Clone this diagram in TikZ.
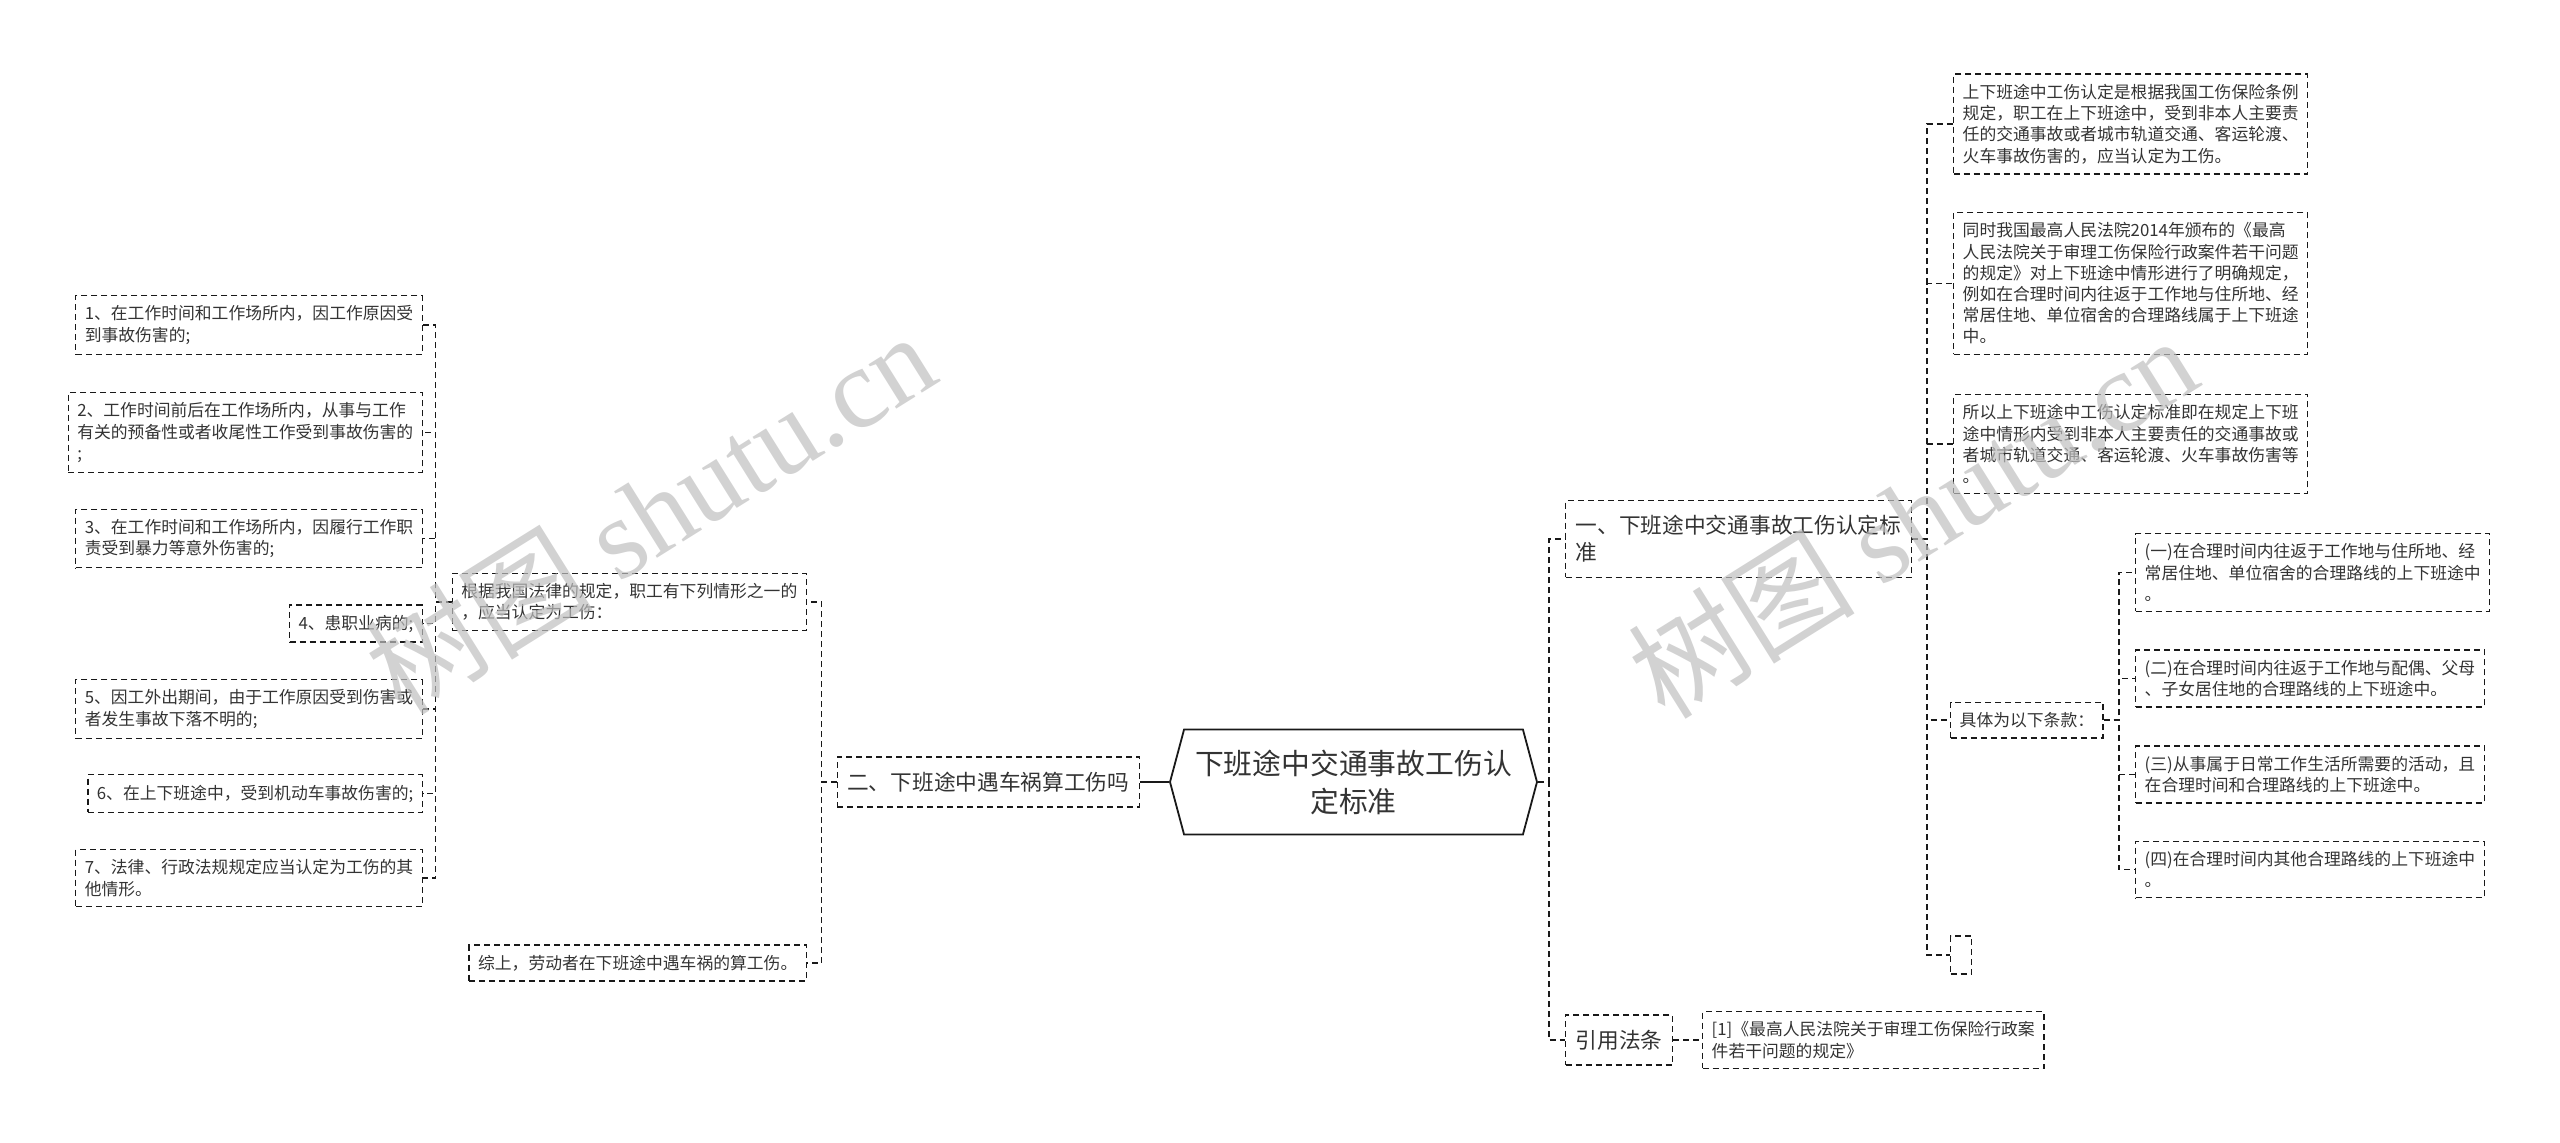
\documentclass[tikz,border=0pt]{standalone}
\usepackage{fontspec}
\setmainfont{Noto Sans CJK SC}
\newfontfamily\wmfont{Liberation Serif}
\usetikzlibrary{shapes.symbols}
\definecolor{LineClr}{rgb}{0.1,0.1,0.1}
\definecolor{TextClr}{rgb}{0.2,0.2,0.2}
\definecolor{WmClr}{rgb}{0.75,0.75,0.75}

\begin{document}
\begin{tikzpicture}[x=0.5pt,y=-0.5pt,
  rootbox/.style={draw=LineClr,line width=0.9pt,shape=signal,signal to=east and west,
    signal pointer angle=150,minimum width=183.5pt,minimum height=52.5pt,inner sep=0pt,
    align=center,font=\fontsize{14.4}{19}\selectfont,text=TextClr},
  topicbox/.style={draw=LineClr,line width=0.7pt,dash pattern=on 3pt off 2pt,align=left,
    inner xsep=5pt,inner ysep=7.5pt,font=\fontsize{10.85}{13.4}\selectfont,text=TextClr},
  leafbox/.style={topicbox,inner xsep=4.5pt,inner ysep=5pt,font=\fontsize{8.4}{10.6}\selectfont},
  link/.style={draw=LineClr,line width=0.7pt,dash pattern=on 3pt off 2pt},
  wmtext/.style={text=WmClr,opacity=0.7,rotate=32,font=\fontsize{57}{60}\selectfont}]
\useasboundingbox (0,0) rectangle (2560,1142);

\node[rootbox] (root) at (1353.5,782) {下班途中交通事故工伤认\\定标准};

\node[topicbox,anchor=west] (n1) at (1565,539) {一、下班途中交通事故工伤认定标\\准};
\node[topicbox,anchor=west] (cite) at (1565,1040) {引用法条};
\node[leafbox,anchor=west] (ref) at (1702,1040) {[1]《最高人民法院关于审理工伤保险行政案\\件若干问题的规定》};

\node[leafbox,anchor=west] (a1) at (1953,124) {上下班途中工伤认定是根据我国工伤保险条例\\规定，职工在上下班途中，受到非本人主要责\\任的交通事故或者城市轨道交通、客运轮渡、\\火车事故伤害的，应当认定为工伤。};
\node[leafbox,anchor=west] (a2) at (1953,283.5) {同时我国最高人民法院2014年颁布的《最高\\人民法院关于审理工伤保险行政案件若干问题\\的规定》对上下班途中情形进行了明确规定，\\例如在合理时间内往返于工作地与住所地、经\\常居住地、单位宿舍的合理路线属于上下班途\\中。};
\node[leafbox,anchor=west] (a3) at (1953,444) {所以上下班途中工伤认定标准即在规定上下班\\途中情形内受到非本人主要责任的交通事故或\\者城市轨道交通、客运轮渡、火车事故伤害等\\。};
\node[leafbox,anchor=west] (a4) at (1950,720) {具体为以下条款：};
\node[leafbox,anchor=west,minimum width=10.5pt,minimum height=19pt] (a5) at (1950,955) {};

\node[leafbox,anchor=west] (b1) at (2135,572.5) {(一)在合理时间内往返于工作地与住所地、经\\常居住地、单位宿舍的合理路线的上下班途中\\。};
\node[leafbox,anchor=west] (b2) at (2135,678.5) {(二)在合理时间内往返于工作地与配偶、父母\\、子女居住地的合理路线的上下班途中。};
\node[leafbox,anchor=west] (b3) at (2135,774.5) {(三)从事属于日常工作生活所需要的活动，且\\在合理时间和合理路线的上下班途中。};
\node[leafbox,anchor=west] (b4) at (2135,869.5) {(四)在合理时间内其他合理路线的上下班途中\\。};

\node[topicbox,anchor=east] (n2) at (1140,782) {二、下班途中遇车祸算工伤吗};
\node[leafbox,anchor=east] (c1) at (807,602) {根据我国法律的规定，职工有下列情形之一的\\，应当认定为工伤：};
\node[leafbox,anchor=east] (c2) at (807,963) {综上，劳动者在下班途中遇车祸的算工伤。};

\node[leafbox,anchor=east] (d1) at (423,325) {1、在工作时间和工作场所内，因工作原因受\\到事故伤害的;};
\node[leafbox,anchor=east] (d2) at (423,432.5) {2、工作时间前后在工作场所内，从事与工作\\有关的预备性或者收尾性工作受到事故伤害的\\;};
\node[leafbox,anchor=east] (d3) at (423,538.5) {3、在工作时间和工作场所内，因履行工作职\\责受到暴力等意外伤害的;};
\node[leafbox,anchor=east] (d4) at (423,623.5) {4、患职业病的;};
\node[leafbox,anchor=east] (d5) at (423,709) {5、因工外出期间，由于工作原因受到伤害或\\者发生事故下落不明的;};
\node[leafbox,anchor=east] (d6) at (423,793.5) {6、在上下班途中，受到机动车事故伤害的;};
\node[leafbox,anchor=east] (d7) at (423,878) {7、法律、行政法规规定应当认定为工伤的其\\他情形。};

\draw[link] (root.east) -- ++(11,0) |- (n1.west);
\draw[link] (root.east) -- ++(11,0) |- (cite.west);
\draw[draw=LineClr,line width=0.7pt] (root.west) -- (n2.east);
\draw[link] (cite.east) -- (ref.west);
\foreach \c in {a1,a2,a3,a4,a5}
  \draw[link] (n1.east) -- ++(15,0) |- (\c.west);
\foreach \c in {b1,b2,b3,b4}
  \draw[link] (a4.east) -- ++(15,0) |- (\c.west);
\foreach \c in {c1,c2}
  \draw[link] (n2.west) -- ++(-15,0) |- (\c.east);
\foreach \i in {1,...,7}
  \draw[link] (c1.west) -- ++(-16,0) |- (d\i.east);

\node[wmtext] (wm1) at (650,512) {树图 {\wmfont shutu.cn}};
\node[wmtext] (wm2) at (1912,516) {树图 {\wmfont shutu.cn}};

\end{tikzpicture}
\end{document}
